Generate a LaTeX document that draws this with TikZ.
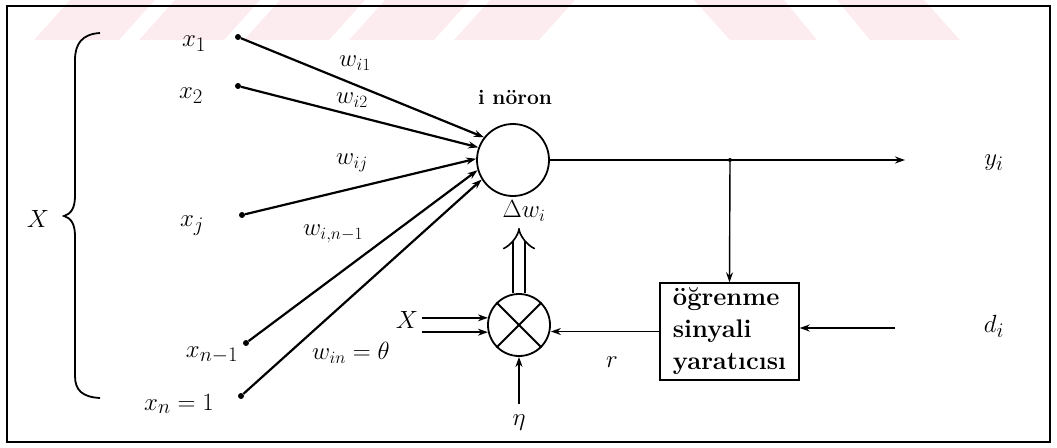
\documentclass[tikz,border=0pt]{standalone}
\usetikzlibrary{arrows.meta}
\definecolor{wm}{RGB}{253,236,239}
\begin{document}
\begin{tikzpicture}[x=1pt,y=-1pt,
  inp/.style={line width=2.2pt},
  thinl/.style={line width=1.4pt},
  tip/.style={-{Stealth[length=10pt,width=7pt]}},
  dotn/.style={circle,fill,inner sep=0,minimum size=6pt},
  lab/.style={font=\fontsize{28}{30}\selectfont, inner sep=0},
  wlab/.style={font=\fontsize{25}{28}\selectfont, inner sep=0},
  ring/.style={circle,draw,line width=1.8pt,inner sep=0}]
\useasboundingbox (0,0) rectangle (1057,447);
% watermark
\foreach \b in {34,139,244,349,454}
  \fill[wm] (\b,40) -- (\b+85,40) -- (\b+121,0) -- (\b+36,0) -- cycle;
\fill[wm] (694,0) -- (784,0) -- (817,40) -- (730,40) -- cycle;
\fill[wm] (837,0) -- (924,0) -- (960,40) -- (870,40) -- cycle;
% frame
\draw[line width=1.6pt] (7,6) rectangle (1050,442);
% brace
\draw[line width=1.8pt] (100,33) .. controls (82,34) and (75,44) .. (75,60) -- (75,196)
  .. controls (75,208) and (71,214) .. (64,216) .. controls (71,218) and (75,224) .. (75,236)
  -- (75,376) .. controls (75,390) and (82,397) .. (100,398);
\node[lab,font=\fontsize{33}{33}\selectfont] (Xbig) at (38,219) {$X$};
% neuron
\node[ring,minimum size=72pt] (neuron) at (513,160) {};
\node[font=\bfseries\fontsize{21}{24}\selectfont,inner sep=0] (title) at (515,97) {i nöron};
% inputs
\node[dotn] (x1) at (238,37) {};
\node[dotn] (x2) at (238,86) {};
\node[dotn] (xj) at (242,215) {};
\node[dotn] (xn1) at (246,343) {};
\node[dotn] (xn) at (241,396) {};
\node[lab] (lx1) at (194,44) {$x_1$};
\node[lab] (lx2) at (191,96) {$x_2$};
\node[lab] (lxj) at (192,226) {$x_j$};
\node[lab] (lxn1) at (212,355) {$x_{n-1}$};
\node[lab] (lxn) at (179,404) {$x_n = 1$};
\draw[inp,tip] (x1) -- (neuron.142);
\draw[inp,tip] (x2) -- (neuron.160);
\draw[inp,tip] (xj) -- (neuron.178);
\draw[inp,tip] (xn1) -- (neuron.196);
\draw[inp,tip] (xn) -- (neuron.212);
\node[wlab] (w1) at (355,63) {$w_{i1}$};
\node[wlab] (w2) at (352,100) {$w_{i2}$};
\node[wlab] (wj) at (352,163) {$w_{ij}$};
\node[wlab] (wn1) at (333,234) {$w_{i,n-1}$};
\node[wlab] (wn) at (351,353) {$w_{in} = \theta$};
% output
\node[dotn,minimum size=4pt] (junc) at (730,160) {};
\coordinate (yend) at (905,160);
\draw[thinl,tip] (neuron.east) -- (yend);
\node[lab,font=\fontsize{32}{34}\selectfont] (yi) at (994,163) {$y_i$};
% learning signal box
\node[draw,line width=1.4pt,minimum width=139pt,minimum height=97pt,inner sep=0,
  align=left,font=\bfseries\fontsize{25.5}{32}\selectfont] (box) at (729.5,331.5)
  {öğrenme\\sinyali\\yaratıcısı};
\draw[thinl,tip] (junc) -- (box.north);
\coordinate (dend) at (895,328);
\draw[thinl,tip] (dend) -- (box.east |- dend);
\node[lab,font=\fontsize{32}{34}\selectfont] (di) at (994,326) {$d_i$};
% multiplier
\node[ring,minimum size=62pt] (mult) at (519,325) {};
\draw[line width=1.8pt] (mult.45) -- (mult.225) (mult.135) -- (mult.315);
\draw[thinl,tip] (box.west) -- (box.west -| mult.east);
\node[lab] (r) at (612,362) {$r$};
\coordinate (etatop) at (519,404);
\node[lab] (eta) at (519,423) {$\eta$};
\draw[inp,tip] (etatop) -- (mult.south);
\node[lab,font=\fontsize{32}{32}\selectfont] (Xm) at (407,320) {$X$};
\draw[thinl,tip,shorten <=4pt] (Xm.east |- mult.167) -- (mult.167);
\draw[thinl,tip,shorten <=4pt] (Xm.east |- mult.193) -- (mult.193);
\coordinate (dwtip) at (519,228);
\draw[double,double distance=10pt,line width=1.6pt,-{Implies}] (mult.north) -- (dwtip);
\node[lab,font=\fontsize{26}{28}\selectfont] (dw) at (524,211) {$\Delta w_i$};
\end{tikzpicture}
\end{document}
